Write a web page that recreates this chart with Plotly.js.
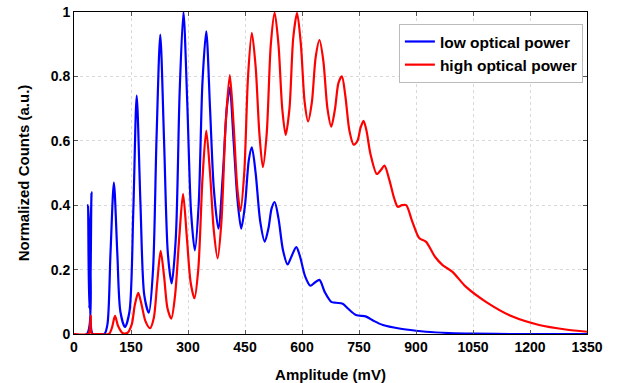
<!DOCTYPE html>
<html>
<head>
<meta charset="utf-8">
<script src="https://cdn.plot.ly/plotly-3.0.1.min.js"></script>
<style>html,body{margin:0;padding:0;background:#fff;}#chart{width:624px;height:383px;}</style>
</head>
<body>
<div id="chart"></div>
<script>
// Low optical power (blue): amplitude in mV, normalized counts
var lowX = [0,34,37,40,43,46,49,60,80,88,96,105,114,122,134,146,156,165,175,185,197,208,217,227,237,247,257,268,278,288,298,308,318,328,338,348,358,368,380,392,402,410,420,430,440,450,460,468,478,490,502,512,520,528,538,550,562,572,585,595,608,622,634,646,660,677,690,707,720,742,769,790,813,856,900,926,988,1050,1150,1350];
var lowY = [0,0,0.40,0.08,0.14,0.44,0,0,0,0.03,0.25,0.47,0.25,0.07,0.022,0.07,0.38,0.74,0.40,0.12,0.066,0.2,0.6,0.93,0.6,0.25,0.157,0.3,0.75,1.0,0.72,0.38,0.26,0.4,0.78,0.94,0.7,0.45,0.327,0.5,0.7,0.765,0.6,0.42,0.327,0.4,0.54,0.58,0.5,0.35,0.287,0.33,0.39,0.41,0.36,0.26,0.216,0.24,0.27,0.24,0.18,0.15,0.16,0.168,0.13,0.10,0.097,0.094,0.08,0.059,0.054,0.04,0.028,0.017,0.01,0.007,0.003,0.001,0,0];

// High optical power (red)
var highX = [0,38,41,44,47,60,92,100,108,116,128,140,152,160,169,178,188,200,210,219,228,237,246,256,266,277,287,297,307,317,327,338,348,358,368,378,388,399,410,420,430,438,448,458,468,478,488,497,507,518,528,538,548,557,567,577,587,597,607,616,626,636,646,656,667,677,687,696,705,714,725,736,746,754,762,770,780,797,808,817,830,843,852,863,874,890,909,926,950,970,996,1031,1084,1154,1224,1294,1350];
var highY = [0,0,0.01,0.057,0,0,0,0.02,0.056,0.025,0.003,0.003,0.03,0.09,0.128,0.09,0.04,0.018,0.05,0.16,0.258,0.18,0.08,0.048,0.12,0.3,0.435,0.3,0.16,0.111,0.2,0.48,0.632,0.5,0.32,0.235,0.35,0.65,0.804,0.65,0.45,0.382,0.5,0.8,0.935,0.83,0.62,0.518,0.62,0.9,0.998,0.9,0.7,0.618,0.7,0.92,0.997,0.9,0.72,0.66,0.72,0.86,0.913,0.85,0.7,0.644,0.7,0.78,0.80,0.74,0.63,0.588,0.6,0.64,0.662,0.63,0.56,0.497,0.51,0.523,0.478,0.42,0.395,0.40,0.40,0.35,0.297,0.287,0.24,0.214,0.193,0.147,0.10,0.054,0.028,0.014,0.007];

var xTicks = [0,150,300,450,600,750,900,1050,1200,1350];
var yTicks = [0,0.2,0.4,0.6,0.8,1];
var yTickText = ['0','0.2','0.4','0.6','0.8','1'];
var seriesNames = ['low optical power','high optical power'];

var FONT = 'Liberation Sans, Arial, sans-serif';
var traces = [
  {x: lowX, y: lowY, type: 'scatter', mode: 'lines', name: seriesNames[0],
   line: {color: '#0000ff', width: 2.2, shape: 'spline', smoothing: 0.8}},
  {x: highX, y: highY, type: 'scatter', mode: 'lines', name: seriesNames[1],
   line: {color: '#ff0000', width: 2.2, shape: 'spline', smoothing: 0.8}}
];

var axisCommon = {
  showline: true, linecolor: '#000', linewidth: 1, mirror: 'ticks',
  ticks: 'inside', ticklen: 4, tickcolor: '#555', tickwidth: 1,
  showgrid: true, gridcolor: '#d9d9d9', griddash: 'dot', gridwidth: 1,
  zeroline: false, automargin: false,
  tickfont: {family: FONT, size: 14, color: '#000', weight: 'bold'}
};

var layout = {
  width: 624, height: 383,
  margin: {l: 74, r: 37, t: 12, b: 49},
  paper_bgcolor: '#fff', plot_bgcolor: '#fff',
  showlegend: true,
  legend: {x: 0.992, xanchor: 'right', y: 0.963, yanchor: 'top',
    bgcolor: '#fff', bordercolor: '#bbb', borderwidth: 1,
    font: {family: FONT, size: 15.5, color: '#000', weight: 'bold'},
    tracegroupgap: 0, itemwidth: 30},
  xaxis: Object.assign({}, axisCommon, {
    range: [0, 1350], tickmode: 'array', tickvals: xTicks,
    title: {text: 'Amplitude (mV)', standoff: 15,
      font: {family: FONT, size: 15, color: '#000', weight: 'bold'}}
  }),
  yaxis: Object.assign({}, axisCommon, {
    range: [0, 1], tickmode: 'array', tickvals: yTicks, ticktext: yTickText,
    title: {text: 'Normalized Counts (a.u.)', standoff: 17,
      font: {family: FONT, size: 15, color: '#000', weight: 'bold'}}
  })
};

Plotly.newPlot('chart', traces, layout, {staticPlot: true, displayModeBar: false});
</script>
</body>
</html>
